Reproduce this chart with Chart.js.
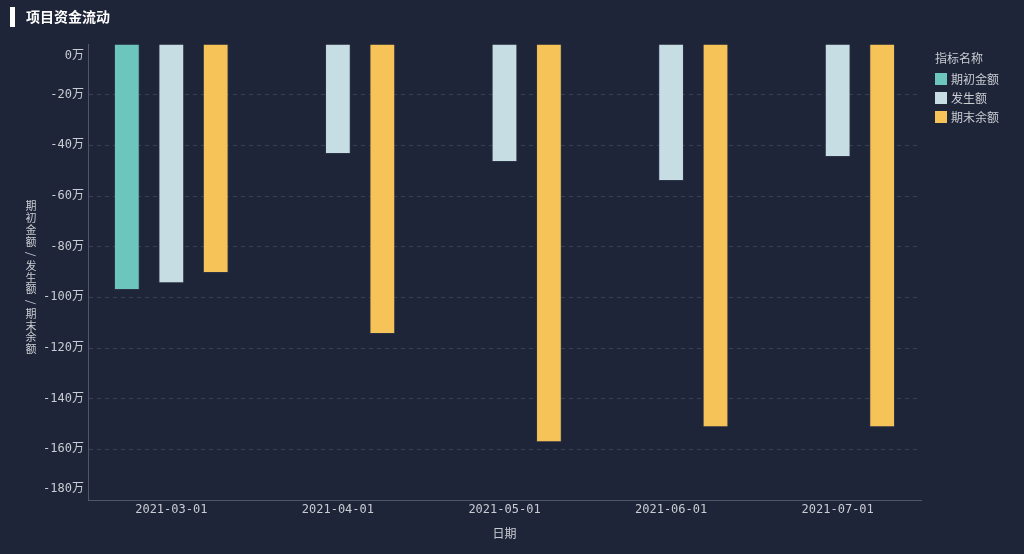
<!DOCTYPE html>
<html>
<head>
<meta charset="utf-8">
<script src="https://cdn.jsdelivr.net/npm/chart.js@4/dist/chart.umd.min.js"></script>
<style>
  html, body { margin: 0; padding: 0; background: #1f2538; }
  #wrap { width: 1024px; height: 554px; position: relative; }
</style>
</head>
<body>
<div id="wrap"><canvas id="grafico" width="1024" height="554"></canvas></div>
<script>
const datas = ["2021-03-01", "2021-04-01", "2021-05-01", "2021-06-01", "2021-07-01"];
const nomesSeries = ["期初金额", "发生额", "期末余额"];
const coresSeries = ["#6cc6be", "#c5dde3", "#f6c358"];
// valores em 万
const periodoInicial = [-97.1, null, null, null, null];
const movimento = [-94.4, -43.4, -46.6, -54.1, -44.6];
const saldoFinal = [-90.4, -114.5, -157.2, -151.3, -151.3];

const titulo = "项目资金流动";
const tituloEixoY = "期初金额/发生额/期末余额";
const tituloEixoX = "日期";
const tituloLegenda = "指标名称";

const corTexto = "#c9ccd3";
const fonteCJK = "'DejaVu Sans Mono', 'Noto Sans CJK SC', sans-serif";

const desenhoExtra = {
  id: "desenhoExtra",
  afterDraw(chart) {
    const ctx = chart.ctx;
    const y = chart.scales.y;
    const x = chart.scales.x;
    ctx.save();

    // titulo
    ctx.fillStyle = "#ffffff";
    ctx.fillRect(10, 7, 5, 20);
    ctx.font = "bold 14px 'Noto Sans CJK SC', sans-serif";
    ctx.textBaseline = "middle";
    ctx.textAlign = "left";
    ctx.fillText(titulo, 26, 17);

    // rotulos do eixo y
    ctx.fillStyle = corTexto;
    ctx.font = "12px " + fonteCJK;
    ctx.textAlign = "right";
    y.ticks.forEach(t => {
      let py = y.getPixelForValue(t.value);
      if (t.value === y.max) py += 12;
      if (t.value === y.min) py -= 11;
      ctx.fillText(t.value + "万", 84, py);
    });

    // titulo eixo y, vertical
    ctx.font = "11px 'Noto Sans CJK SC', sans-serif";
    ctx.textAlign = "center";
    let cy = 206;
    Array.from(tituloEixoY).forEach(c => {
      if (c === "/") {
        ctx.save();
        ctx.translate(31, cy + 1);
        ctx.rotate(Math.PI / 2);
        ctx.fillText("/", 0, 0);
        ctx.restore();
        cy += 12.5;
      } else {
        ctx.fillText(c, 31, cy);
        cy += 11.8;
      }
    });

    // titulo eixo x
    ctx.font = "12px 'Noto Sans CJK SC', sans-serif";
    ctx.fillText(tituloEixoX, (x.left + x.right) / 2, 533);

    // legenda
    ctx.textAlign = "left";
    ctx.fillStyle = corTexto;
    ctx.fillText(tituloLegenda, 935, 58);
    nomesSeries.forEach((nome, i) => {
      const ly = 79 + i * 19;
      ctx.fillStyle = coresSeries[i];
      ctx.fillRect(935, ly - 6, 12, 12);
      ctx.fillStyle = corTexto;
      ctx.fillText(nome, 951, ly);
    });

    ctx.restore();
  }
};

function serie(i, dados) {
  return {
    label: nomesSeries[i],
    data: dados,
    backgroundColor: coresSeries[i],
    borderColor: "rgba(60,66,86,0.5)",
    borderWidth: 1,
    borderSkipped: "start",
    categoryPercentage: 0.8,
    barPercentage: 0.58
  };
}

new Chart(document.getElementById("grafico"), {
  type: "bar",
  data: {
    labels: datas,
    datasets: [serie(0, periodoInicial), serie(1, movimento), serie(2, saldoFinal)]
  },
  plugins: [desenhoExtra],
  options: {
    responsive: false,
    animation: false,
    layout: { padding: { top: 44, right: 103, left: 0, bottom: 0 } },
    plugins: { legend: { display: false }, tooltip: { enabled: false } },
    scales: {
      x: {
        afterFit(s) { s.height = 54; },
        grid: { display: false, drawTicks: false },
        border: { display: true, color: "#50566a" },
        ticks: {
          color: corTexto,
          padding: 3,
          font: { family: fonteCJK, size: 12 }
        }
      },
      y: {
        min: -180,
        max: 0,
        afterFit(s) { s.width = 88; },
        ticks: { stepSize: 20, display: false },
        grid: {
          color: c => (c.tick && c.tick.value === 0 ? "rgba(0,0,0,0)" : "#3a4156"),
          drawTicks: false,
          tickLength: 0
        },
        border: { display: true, color: "#50566a", dash: [4, 4] }
      }
    }
  }
});
</script>
</body>
</html>
